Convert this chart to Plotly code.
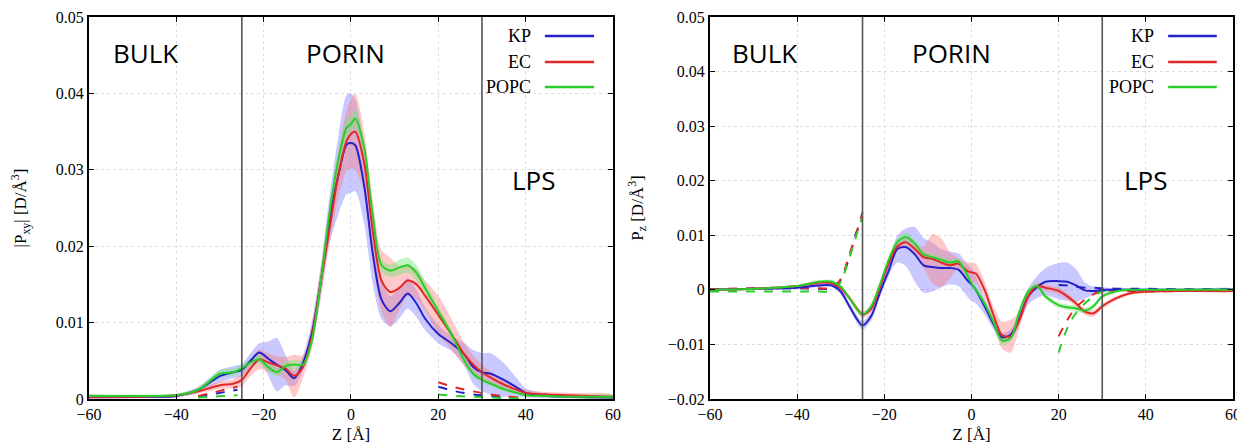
import plotly.graph_objects as go
from plotly.subplots import make_subplots

# ---------------- data: left panel |Pxy| ----------------
Z_L = [-60, -50, -40, -35, -30, -27, -25, -23, -21, -19, -17, -15, -13, -11, -9, -7, -5, -3, -1, 0,
       1, 3, 5, 7, 9, 11, 13, 15, 17, 20, 23, 26, 28, 30, 32, 35, 38, 40, 45, 50, 60]
KP_L = [.0003, .0003, .0004, .0012, .003, .0035, .0038, .005, .0061, .0053, .0045, .0038, .0027, .0047, .0085, .015,
        .0232, .029, .0333, .0335, .0332, .028, .019, .013, .0115, .0125, .0138, .0125, .0105, .0085, .0073, .0058,
        .0042, .0035, .0033, .0025, .0015, .0008, .0004, .0003, .0002]
KP_L_ERR = [.0003, .0002, .0002, .0004, .0008, .0008, .0008, .001, .0012, .0022, .0035, .002, .001, .001, .0015, .002,
            .003, .005, .0065, .0065, .006, .005, .004, .0025, .002, .002, .002, .0018, .0015, .0012, .001, .0015,
            .0022, .0025, .0027, .0022, .0012, .0006, .0003, .0002, .0002]
EC_L = [.0003, .0003, .0005, .001, .0018, .002, .0025, .004, .0052, .0048, .0044, .004, .003, .0042, .008, .015,
        .022, .029, .0338, .0347, .035, .031, .022, .0155, .014, .0145, .0155, .015, .0135, .011, .0085, .0058,
        .0045, .0035, .0028, .0019, .0012, .0008, .0006, .0005, .0003]
EC_L_ERR = [.0003, .0002, .0002, .0003, .0005, .0006, .0008, .001, .0013, .0012, .0012, .0015, .0028, .0015, .0015,
            .002, .002, .003, .004, .0045, .005, .004, .004, .004, .0045, .003, .002, .002, .002, .0025, .002,
            .0015, .0012, .001, .0008, .0006, .0005, .0004, .0003, .0003, .0003]
POPC_L = [.0004, .0004, .0005, .0012, .0033, .0035, .004, .0048, .0052, .0042, .0035, .0043, .0045, .0045, .0075,
          .015, .024, .031, .0355, .036, .0367, .033, .024, .0175, .0168, .0172, .0175, .0165, .0145, .0115, .0085,
          .005, .0033, .0025, .002, .0013, .0008, .0005, .0004, .0003, .0003]
POPC_L_ERR = [.0002, .0002, .0002, .0003, .0005, .0005, .0005, .0005, .0006, .0006, .0006, .0006, .0006, .0006,
              .0008, .001, .001, .0012, .0012, .0012, .0012, .001, .001, .0008, .0008, .001, .001, .001, .0008,
              .0006, .0005, .0005, .0004, .0004, .0003, .0003, .0002, .0002, .0002, .0002, .0002]

# dashed (secondary) profiles, left panel
Z_LD1 = [-35, -32, -29, -26]
KP_LD1 = [.0003, .0006, .0009, .0012]
EC_LD1 = [.0004, .0008, .0012, .0016]
POPC_LD1 = [.0002, .0003, .0004, .0005]
Z_LD2 = [20, 24, 28, 32, 36, 40]
KP_LD2 = [.0016, .001, .0006, .0004, .0002, .0001]
EC_LD2 = [.0022, .0015, .001, .0006, .0003, .0002]
POPC_LD2 = [.0006, .0004, .0003, .0002, .0001, .0001]

# ---------------- data: right panel Pz ----------------
Z_R = [-60, -50, -40, -35, -32, -30, -28, -25, -23, -21, -19, -17, -15, -13, -11, -9, -7, -5, -3, -1, 0,
       1, 3, 5, 7, 9, 11, 13, 15, 17, 20, 22, 24, 26, 28, 30, 33, 36, 40, 50, 60]
KP_R = [0, .0002, .0004, .0008, .0008, -.0003, -.003, -.0065, -.0048, -.0005, .0035, .0075, .0078, .0065, .0045,
        .0042, .004, .004, .0037, .0018, .001, 0, -.003, -.0062, -.0087, -.0082, -.0052, -.0012, .0005, .0015,
        .0016, .0015, .0008, -.0001, -.0002, 0, 0, 0, 0, 0, 0]
KP_R_ERR = [.0002, .0002, .0002, .0003, .0003, .0005, .0006, .0008, .0008, .0008, .001, .0025, .0035, .005, .005,
            .0045, .0035, .003, .003, .003, .003, .0025, .0015, .001, .0008, .001, .0012, .0015, .002, .0025,
            .0033, .0035, .003, .0015, .0008, .0005, .0003, .0003, .0002, .0002, .0002]
EC_R = [0, .0002, .0007, .0013, .0012, .0003, -.0015, -.0045, -.0035, .0005, .0048, .008, .0087, .0075, .006,
        .0057, .005, .0045, .0048, .0035, .0032, .003, 0, -.0045, -.0083, -.0085, -.0055, -.0012, .0007, .0004,
        -.0002, -.0012, -.0025, -.004, -.0043, -.003, -.0016, -.0007, -.0003, -.0002, -.0002]
EC_R_ERR = [.0002, .0002, .0002, .0003, .0003, .0004, .0005, .0006, .0006, .0006, .0007, .0008, .0008, .0008, .002,
            .0045, .0045, .0025, .001, .0015, .0018, .0018, .0015, .0015, .0025, .003, .0015, .001, .0006, .0006,
            .0006, .0006, .0006, .0006, .0006, .0005, .0004, .0003, .0003, .0002, .0002]
POPC_R = [0, .0002, .0007, .0015, .0015, .0006, -.0015, -.0045, -.003, .001, .0055, .0088, .0097, .0085, .0065,
          .006, .0055, .005, .0052, .0028, .0012, 0, -.0025, -.0058, -.0093, -.0088, -.004, -.0003, .0007, -.0012,
          -.0028, -.0032, -.0034, -.0038, -.003, -.0012, -.0003, 0, 0, 0, 0]
POPC_R_ERR = [.0002, .0002, .0002, .0003, .0003, .0004, .0004, .0005, .0005, .0005, .0006, .0007, .0008, .0007,
              .0006, .0006, .0006, .0006, .0006, .0006, .0006, .0006, .0006, .0007, .0008, .0007, .0006, .0005,
              .0005, .0005, .0005, .0005, .0005, .0005, .0005, .0004, .0003, .0003, .0002, .0002, .0002]

# dashed (secondary) profiles, right panel
Z_RD1 = [-60, -50, -40, -35, -32, -30, -28, -26, -25]
KP_RD1 = [.0001, .0002, .0003, .0002, .0003, .0018, .006, .0112, .0117]
EC_RD1 = [.0001, .0003, .0004, .0003, .0004, .002, .0065, .0115, .0142]
POPC_RD1 = [-.0003, -.0003, -.0003, -.0003, -.0002, .0015, .006, .011, .0135]
Z_RD2 = [20, 22, 24, 26, 28, 30, 35, 40, 50, 60]
KP_RD2 = [.0009, .0008, .0006, .0004, .0004, .0003, .0002, .0002, .0001, .0001]
EC_RD2 = [-.0085, -.0055, -.0032, -.0018, -.0008, -.0002, -.0002, -.0003, -.0002, -.0002]
POPC_RD2 = [-.0115, -.007, -.0042, -.0025, -.0012, -.0003, 0, -.0001, 0, 0]

SERIES = ["KP", "EC", "POPC"]
BOUNDARIES = [-25, 30]
REGIONS = ["BULK", "PORIN", "LPS"]

# ---------------- styles ----------------
COLORS = {"KP": "#2222c8", "EC": "#e02828", "POPC": "#2ccc2c"}
BANDS = {"KP": "rgba(120,120,255,0.40)", "EC": "rgba(255,120,120,0.40)", "POPC": "rgba(120,230,120,0.45)"}
SERIF = "Liberation Serif"
SANS = "Open Sans"

fig = make_subplots(rows=1, cols=2)

panels = [
    (1, Z_L, {"KP": (KP_L, KP_L_ERR), "EC": (EC_L, EC_L_ERR), "POPC": (POPC_L, POPC_L_ERR)},
     [(Z_LD1, {"KP": KP_LD1, "EC": EC_LD1, "POPC": POPC_LD1}),
      (Z_LD2, {"KP": KP_LD2, "EC": EC_LD2, "POPC": POPC_LD2})]),
    (2, Z_R, {"KP": (KP_R, KP_R_ERR), "EC": (EC_R, EC_R_ERR), "POPC": (POPC_R, POPC_R_ERR)},
     [(Z_RD1, {"KP": KP_RD1, "EC": EC_RD1, "POPC": POPC_RD1}),
      (Z_RD2, {"KP": KP_RD2, "EC": EC_RD2, "POPC": POPC_RD2})]),
]

for col, z, data, dashed in panels:
    for s in SERIES:
        vals, err = data[s]
        hi = [v + e for v, e in zip(vals, err)]
        lo = [v - e for v, e in zip(vals, err)]
        fig.add_trace(go.Scatter(x=z + z[::-1], y=hi + lo[::-1], fill="toself", fillcolor=BANDS[s],
                                 line=dict(width=0, shape="spline", smoothing=0.8), mode="lines",
                                 showlegend=False, hoverinfo="skip"), row=1, col=col)
    for zd, dd in dashed:
        for s in SERIES:
            fig.add_trace(go.Scatter(x=zd, y=dd[s], mode="lines",
                                     line=dict(color=COLORS[s], width=2, dash="dash", shape="spline"),
                                     showlegend=False), row=1, col=col)
    for s in SERIES:
        vals, _ = data[s]
        fig.add_trace(go.Scatter(x=z, y=vals, mode="lines", name=s,
                                 line=dict(color=COLORS[s], width=2, shape="spline", smoothing=0.8),
                                 showlegend=False), row=1, col=col)

# region boundary lines
for col in (1, 2):
    xr = "x" if col == 1 else "x2"
    yr = "y domain" if col == 1 else "y2 domain"
    for b in BOUNDARIES:
        fig.add_shape(type="line", xref=xr, yref=yr, x0=b, x1=b, y0=0, y1=1,
                      line=dict(color="#555555", width=1.6))

# region labels
label_pos = {
    1: [(0.108, 0.906), (0.490, 0.906), (0.849, 0.573)],
    2: [(0.105, 0.906), (0.461, 0.906), (0.832, 0.573)],
}
for col in (1, 2):
    xr = "x domain" if col == 1 else "x2 domain"
    yr = "y domain" if col == 1 else "y2 domain"
    for name, (px, py) in zip(REGIONS, label_pos[col]):
        fig.add_annotation(text=name, xref=xr, yref=yr, x=px, y=py, showarrow=False,
                           xanchor="center", yanchor="middle",
                           font=dict(family=SANS, size=26, color="black"))

# manual legends (text right-aligned, sample line to its right)
legend_y = [0.950, 0.882, 0.817]
legend_geom = {1: (0.847, 0.870, 0.964), 2: (0.853, 0.876, 0.969)}
for col in (1, 2):
    xr = "x domain" if col == 1 else "x2 domain"
    yr = "y domain" if col == 1 else "y2 domain"
    tx, lx0, lx1 = legend_geom[col]
    for s, ly in zip(SERIES, legend_y):
        fig.add_annotation(text=s, xref=xr, yref=yr, x=tx, y=ly, xanchor="right", yanchor="middle",
                           showarrow=False, font=dict(family=SERIF, size=18, color="black"))
        fig.add_shape(type="line", xref=xr, yref=yr, x0=lx0, x1=lx1, y0=ly, y1=ly,
                      line=dict(color=COLORS[s], width=2.5))

axis_common = dict(showline=True, linecolor="black", linewidth=2, mirror="ticks", ticks="inside",
                   ticklen=5, tickcolor="black", showgrid=True, gridcolor="#dedede", griddash="dot",
                   gridwidth=1, zeroline=False, automargin=False,
                   tickfont=dict(family=SERIF, size=16, color="black"))

fig.update_xaxes(**axis_common)
fig.update_xaxes(range=[-60, 60], dtick=20, tick0=-60,
                 title=dict(text="Z [Å]", font=dict(family=SERIF, size=17, color="black"), standoff=6))
fig.update_yaxes(**axis_common)
fig.update_yaxes(range=[0, 0.05], dtick=0.01, row=1, col=1,
                 title=dict(text="|P<sub>xy</sub>| [D/Å<sup>3</sup>]",
                            font=dict(family=SERIF, size=17, color="black"), standoff=26))
fig.update_yaxes(range=[-0.02, 0.05], dtick=0.01, row=1, col=2,
                 title=dict(text="P<sub>z</sub> [D/Å<sup>3</sup>]",
                            font=dict(family=SERIF, size=17, color="black"), standoff=20))

# the page body adds an 8 px offset, so the figure is sized to fit inside the window
fig.update_layout(
    width=1237, height=440,
    margin=dict(l=81, r=12, t=9, b=49, autoexpand=False),
    paper_bgcolor="white", plot_bgcolor="white",
    font=dict(family=SERIF, size=16, color="black"),
    showlegend=False,
)
fig.layout.xaxis.domain = [0.0, 0.458]
fig.layout.xaxis2.domain = [0.5428, 1.0]

fig.write_html("out.html")
